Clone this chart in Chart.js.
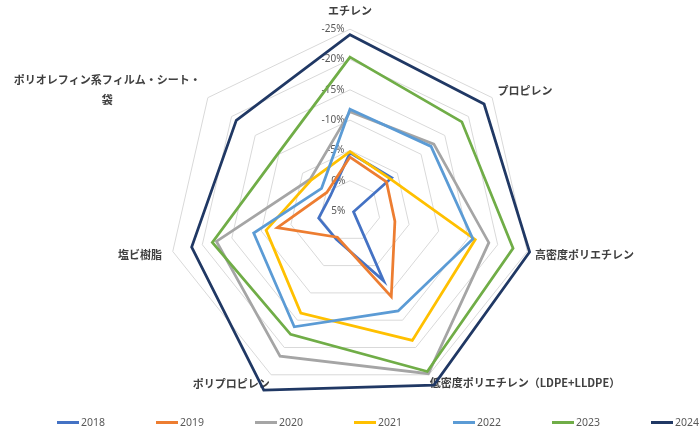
<!DOCTYPE html>
<html lang="ja">
<head>
<meta charset="utf-8">
<script src="https://cdn.jsdelivr.net/npm/chart.js@4.4.1/dist/chart.umd.min.js"></script>
<style>
  html, body { margin: 0; padding: 0; background: #fff; overflow: hidden; }
  #wrap { position: relative; width: 700px; height: 432px; overflow: hidden; }
  #chart { position: absolute; left: -20px; top: -5px; }
  #legend { position: absolute; left: 0; top: 413px; width: 700px; height: 18px;
            font: 10.5px 'Noto Sans', sans-serif; color: #595959; }
  .item { position: absolute; top: 0; height: 18px; display: flex; align-items: center; }
  .swatch { width: 22px; height: 3px; margin-right: 2px; }
</style>
</head>
<body>
<div id="wrap">
  <canvas id="chart" width="740" height="437"></canvas>
  <div id="legend"></div>
</div>
<script>
// Categories (clockwise from top)
const categories = [
    'エチレン',
    'プロピレン',
    '高密度ポリエチレン',
    '低密度ポリエチレン（LDPE+LLDPE）',
    'ポリプロピレン',
    '塩ビ樹脂',
    ['ポリオレフィン系フィルム・シート・　　', '袋　　　　　　　　　　']
];

const years = ['2018', '2019', '2020', '2021', '2022', '2023', '2024'];

// Change rates (%) per category
const values2018 = [-4.6, -3.8, 4.4, -7.8, -0.2, -0.3, 0.9];
const values2019 = [-3.9, -2.7, -2.6, -10.7, 0.2, -7.3, 0.1];
const values2020 = [-11.4, -12.7, -18.5, -24.8, -21.6, -17.6, -3.4];
const values2021 = [-4.8, -3.5, -16.2, -18.7, -13.7, -9.2, -3.2];
const values2022 = [-11.8, -12.1, -15.8, -13.3, -16.2, -11.3, -1.0];
const values2023 = [-20.4, -18.6, -22.6, -24.4, -17.6, -18.3, -10.2];
const values2024 = [-24.1, -23.3, -25.4, -26.9, -27.8, -21.8, -19.0];

// Axis range
const axisMin = -25;
const axisMax = 5;
const axisStep = 5;

const series = [values2018, values2019, values2020, values2021, values2022, values2023, values2024];
const colors = ['#4472C4', '#ED7D31', '#A5A5A5', '#FFC000', '#5B9BD5', '#70AD47', '#203864'];
const labelPadding = [5, 0, 1, -5, -4, 4, -26];
const labelLineHeight = [1.2, 0.4, 0.2, 1.2, 1.2, 0.2, 1.8];

// Legend
const legend = document.getElementById('legend');
years.forEach((year, i) => {
    const item = document.createElement('div');
    item.className = 'item';
    item.style.left = (57 + i * 99) + 'px';
    item.innerHTML = `<span class="swatch" style="background:${colors[i]}"></span><span>${year}</span>`;
    legend.appendChild(item);
});

// Chart
new Chart(document.getElementById('chart'), {
    type: 'radar',
    data: {
        labels: categories,
        datasets: years.map((year, i) => ({
            label: year,
            data: series[i],
            borderColor: colors[i],
            backgroundColor: colors[i],
            borderWidth: 2.75,
            borderJoinStyle: 'miter',
            pointRadius: 0,
            pointHoverRadius: 0,
            fill: false,
            order: years.length - i
        }))
    },
    options: {
        responsive: false,
        animation: false,
        devicePixelRatio: 1,
        layout: { padding: { top: 0, bottom: 22, left: 0, right: 0 } },
        plugins: {
            legend: { display: false },
            tooltip: { enabled: false }
        },
        scales: {
            r: {
                min: axisMin,
                max: axisMax,
                reverse: true,
                ticks: {
                    stepSize: axisStep,
                    showLabelBackdrop: false,
                    color: '#595959',
                    font: { family: "'Noto Sans', sans-serif", size: 10 },
                    callback: v => {
                        const s = v + '%';
                        return s + ' '.repeat(s.length * 2 + 5);
                    }
                },
                grid: { color: '#d9d9d9', lineWidth: 1 },
                angleLines: { display: false },
                pointLabels: {
                    color: '#404040',
                    font: ctx => ({
                        family: "'Noto Sans CJK JP', sans-serif",
                        size: 11,
                        weight: 'bold',
                        lineHeight: labelLineHeight[ctx.index]
                    }),
                    padding: ctx => labelPadding[ctx.index]
                }
            }
        }
    }
});
</script>
</body>
</html>
